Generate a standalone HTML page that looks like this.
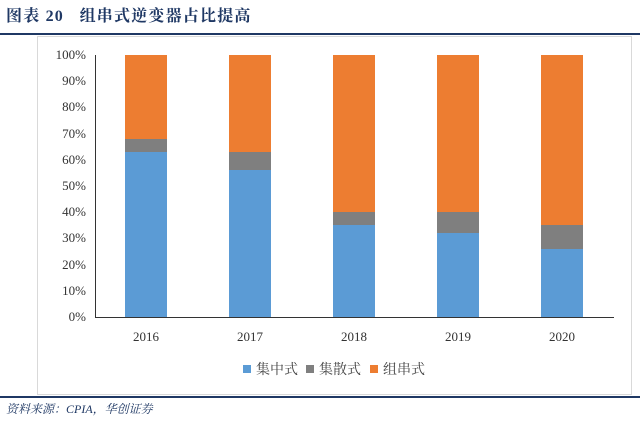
<!DOCTYPE html>
<html><head><meta charset="utf-8"><style>
body{margin:0;background:#fff;width:640px;height:423px;overflow:hidden}
svg{display:block}
</style></head><body>
<svg width="640" height="423" xmlns="http://www.w3.org/2000/svg" font-family="Liberation Serif, Noto Serif CJK SC, serif">
<text x="6" y="21" font-size="16" font-weight="bold" fill="#1f3864" letter-spacing="1.2" font-family="Liberation Serif, Noto Serif CJK SC, serif">图表 20 &#160; 组串式逆变器占比提高</text>
<line x1="0" y1="34" x2="640" y2="34" stroke="#1f3864" stroke-width="2"/>
<rect x="37.5" y="36.5" width="594" height="358" fill="#fff" stroke="#d9d9d9"/>
<g font-size="13" fill="#333" text-anchor="end">
<text x="86" y="321">0%</text><text x="86" y="295">10%</text><text x="86" y="269">20%</text><text x="86" y="242">30%</text><text x="86" y="216">40%</text><text x="86" y="190">50%</text><text x="86" y="164">60%</text><text x="86" y="138">70%</text><text x="86" y="111">80%</text><text x="86" y="85">90%</text><text x="86" y="59">100%</text>
</g>
<line x1="95.5" y1="55" x2="95.5" y2="317" stroke="#333"/>
<line x1="95" y1="317.5" x2="614" y2="317.5" stroke="#333"/>
<g>
<rect x="125" y="152" width="42" height="165" fill="#5b9bd5"/><rect x="125" y="139" width="42" height="13" fill="#7f7f7f"/><rect x="125" y="55" width="42" height="84" fill="#ed7d31"/>
<rect x="229" y="170" width="42" height="147" fill="#5b9bd5"/><rect x="229" y="152" width="42" height="18" fill="#7f7f7f"/><rect x="229" y="55" width="42" height="97" fill="#ed7d31"/>
<rect x="333" y="225" width="42" height="92" fill="#5b9bd5"/><rect x="333" y="212" width="42" height="13" fill="#7f7f7f"/><rect x="333" y="55" width="42" height="157" fill="#ed7d31"/>
<rect x="437" y="233" width="42" height="84" fill="#5b9bd5"/><rect x="437" y="212" width="42" height="21" fill="#7f7f7f"/><rect x="437" y="55" width="42" height="157" fill="#ed7d31"/>
<rect x="541" y="249" width="42" height="68" fill="#5b9bd5"/><rect x="541" y="225" width="42" height="24" fill="#7f7f7f"/><rect x="541" y="55" width="42" height="170" fill="#ed7d31"/>
</g>
<g font-size="13" fill="#333" text-anchor="middle">
<text x="146" y="341">2016</text><text x="250" y="341">2017</text><text x="354" y="341">2018</text><text x="458" y="341">2019</text><text x="562" y="341">2020</text>
</g>
<g font-size="14" fill="#444" font-family="Noto Serif CJK SC, serif">
<rect x="243" y="365" width="8" height="8" fill="#5b9bd5"/><text x="256" y="374">集中式</text>
<rect x="306" y="365" width="8" height="8" fill="#7f7f7f"/><text x="319" y="374">集散式</text>
<rect x="370" y="365" width="8" height="8" fill="#ed7d31"/><text x="383" y="374">组串式</text>
</g>
<line x1="0" y1="397" x2="640" y2="397" stroke="#1f3864" stroke-width="2"/>
<text x="6" y="413" font-size="12" font-style="italic" fill="#1f3864">资料来源：CPIA，华创证券</text>
</svg>
</body></html>
